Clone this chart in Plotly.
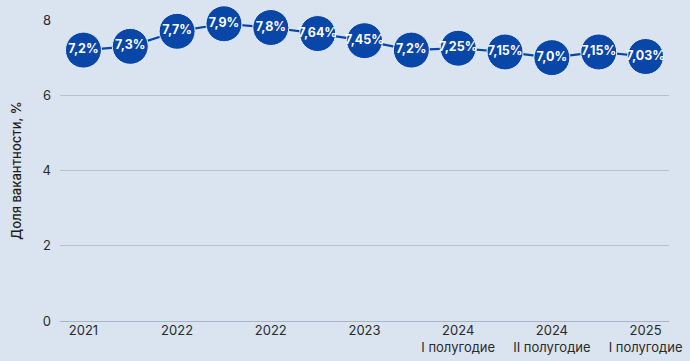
import plotly.graph_objects as go

values = [7.2, 7.3, 7.7, 7.9, 7.8, 7.64, 7.45, 7.2, 7.25, 7.15, 7.0, 7.15, 7.03]
value_labels = ["7,2%", "7,3%", "7,7%", "7,9%", "7,8%", "7,64%", "7,45%", "7,2%",
                "7,25%", "7,15%", "7,0%", "7,15%", "7,03%"]
tick_labels = ["2021", "2022", "2022", "2023", "2024<br>I полугодие",
               "2024<br>II полугодие", "2025<br>I полугодие"]
y_ticks = [0, 2, 4, 6, 8]

x = list(range(len(values)))
tick_positions = x[::2]

BLUE = "#0846a8"
BG = "#dae4f0"

fig = go.Figure()
fig.add_trace(go.Scatter(
    x=x, y=values, mode="lines+markers+text",
    line=dict(color=BLUE, width=2.2),
    marker=dict(size=36, color=BLUE, line=dict(color="#e8eef6", width=1)),
    text=value_labels, textposition="middle center",
    textfont=dict(family="Inter, sans-serif", size=12.5, color="white", weight="bold"),
    cliponaxis=False, hoverinfo="skip", showlegend=False,
))

fig.update_layout(
    width=690, height=361,
    paper_bgcolor=BG, plot_bgcolor=BG,
    margin=dict(l=60, r=21, t=20, b=40, autoexpand=False),
    font=dict(family="Inter, sans-serif", size=13, color="#2a2a2a"),
    xaxis=dict(range=[-0.5, 12.5], tickvals=tick_positions, ticktext=tick_labels,
               showgrid=False, zeroline=False, showline=False, ticks="",
               automargin=False,
               tickfont=dict(size=13, color="#2a2a2a")),
    yaxis=dict(range=[0, 8], tickvals=y_ticks, showgrid=True, gridcolor="#b3c1d1",
               gridwidth=1, zeroline=True, zerolinecolor="#a7b5c6", zerolinewidth=1,
               showline=False, ticks="", ticklabelstandoff=8, automargin=False,
               title=dict(text="Доля вакантности, %", standoff=18,
                          font=dict(size=13, color="#1e1e1e", weight=500)),
               tickfont=dict(size=13, color="#2a2a2a")),
)

fig.write_html("out.html", config={"displayModeBar": False},
               post_script="document.body.style.margin='0';document.body.style.background='%s';" % BG)
